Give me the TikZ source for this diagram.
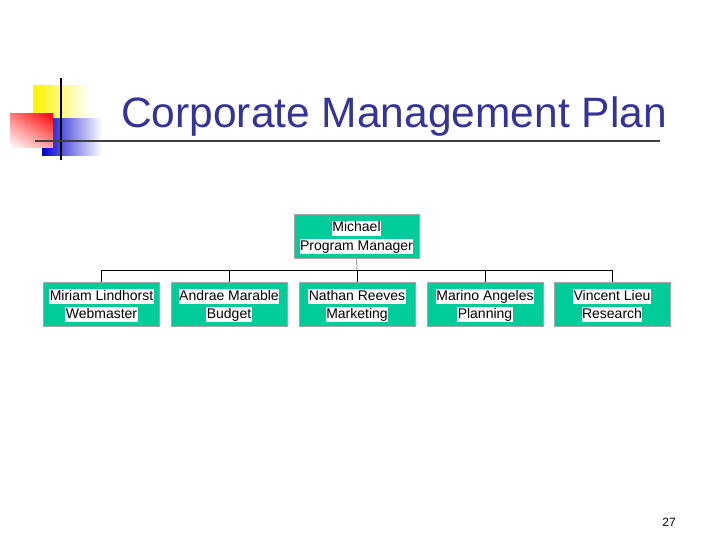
\documentclass[tikz,border=0pt]{standalone}
\usepackage{fontspec}
\usetikzlibrary{shadings}
\setmainfont{Liberation Sans}
\begin{document}
\begin{tikzpicture}[x=1pt,y=-1pt,
  orgbox/.style={draw=gray!70,line width=0.8pt,fill=boxc,minimum width=116pt,minimum height=44pt,inner sep=0pt},
  lbl/.style={fill=white,inner sep=0.5pt,anchor=base,text height=10.5pt,text depth=3pt,font=\fontsize{14}{16}\selectfont},
  conn/.style={draw=black,line width=0.6pt}]
\definecolor{boxc}{RGB}{0,204,153}
\definecolor{titlec}{RGB}{51,51,153}
\useasboundingbox (0,0) rectangle (720,540);
% logo
\shade[left color=yellow!90!orange, right color=white] (33,86) rectangle (90,118);
\shade[left color=blue!80!black, right color=white] (42,119) rectangle (102,156);
\shade[upper right=red, lower left=white, upper left=red!50, lower right=red!35] (10,114) rectangle (53,148);
\draw[line width=2pt] (61,78) -- (61,160);
\draw[line width=2pt,draw=black!75] (35,141) -- (660,141);
\node[anchor=base west,text=titlec,font=\fontsize{42.5}{48}\selectfont,inner sep=0pt] (title) at (121,128) {Corporate Management Plan};
% org
\node[orgbox,minimum width=125pt] (m) at (356.5,236) {};
\node[lbl] (m1) at (356.5,232) {Michael};
\node[lbl] (m2) at (356.5,250) {Program Manager};
\foreach \n/\x/\a/\b in {c1/101.5/Miriam Lindhorst/Webmaster, c2/229/Andrae Marable/Budget, c3/357/Nathan Reeves/Marketing, c4/485/Marino Angeles/Planning, c5/612/Vincent Lieu/Research}{
  \node[orgbox] (\n) at (\x,304) {};
  \node[lbl] at (\x,300) {\a};
  \node[lbl] at (\x,318) {\b};
  \coordinate (\n t) at (\x,270);
  \draw[conn] (\n t) -- (\n.north);
}
\draw[conn] (c1t) -- (c5t);
\draw[draw=gray!70,line width=1pt] (m.south) -- (c3t);
\node[font=\fontsize{12}{14}\selectfont] (pg) at (669,522) {27};
\end{tikzpicture}
\end{document}
